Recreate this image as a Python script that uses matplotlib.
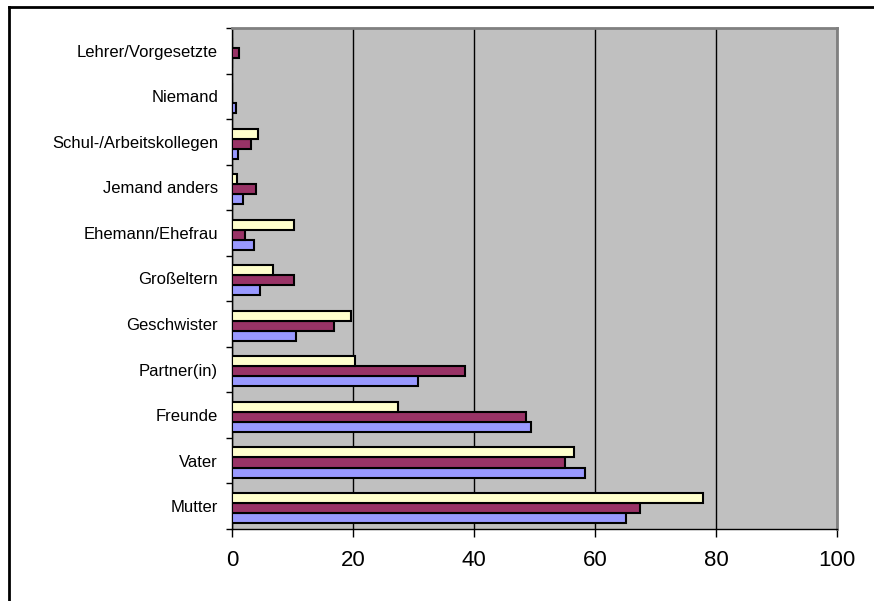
import numpy as np
import matplotlib
matplotlib.use("Agg")
import matplotlib.pyplot as plt
from matplotlib.lines import Line2D

plt.rcParams['font.family'] = ['Liberation Sans', 'DejaVu Sans']

# categories from bottom to top
categories = ["Mutter", "Vater", "Freunde", "Partner(in)", "Geschwister",
              "Großeltern", "Ehemann/Ehefrau", "Jemand anders",
              "Schul-/Arbeitskollegen", "Niemand", "Lehrer/Vorgesetzte"]

# three series, drawn bottom (blue) to top (yellow) inside each group
blue_vals = [65.2, 58.3, 49.4, 30.7, 10.5, 4.6, 3.6, 1.8, 1.0, 0.7, 0.0]
maroon_vals = [67.4, 55.0, 48.6, 38.5, 16.8, 10.2, 2.1, 4.0, 3.2, 0.0, 1.1]
yellow_vals = [77.8, 56.5, 27.4, 20.4, 19.7, 6.8, 10.2, 0.9, 4.3, 0.0, 0.0]

x_ticks = [0, 20, 40, 60, 80, 100]

fig = plt.figure(figsize=(8.74, 6.01), dpi=100)
ax = fig.add_axes([232 / 874, 1 - 529 / 601, 605 / 874, 501 / 601])
ax.set_facecolor("#C0C0C0")

y = np.arange(len(categories))
h = 0.22
base = y - 0.04
bar_kw = dict(height=h, edgecolor="black", linewidth=1.5, zorder=3)
ax.barh(base - h, blue_vals, color="#9999FF", **bar_kw)
ax.barh(base, maroon_vals, color="#993366", **bar_kw)
ax.barh(base + h, yellow_vals, color="#FFFFCC", **bar_kw)

ax.set_xlim(0, 100)
ax.set_ylim(-0.5, len(categories) - 0.5)
ax.set_xticks(x_ticks)
ax.set_xticklabels([str(t) for t in x_ticks], fontsize=16)

# category labels centred, tick marks on the boundaries
ax.set_yticks(y)
ax.set_yticklabels(categories, fontsize=12)
ax.tick_params(axis="y", which="major", length=0, pad=10)
ax.set_yticks(np.arange(len(categories) + 1) - 0.5, minor=True)
ax.tick_params(axis="y", which="minor", length=4, width=1, direction="out")
ax.tick_params(axis="x", length=6, width=1, direction="out", pad=9)

ax.grid(axis="x", color="black", linewidth=1, zorder=1)
ax.set_axisbelow(True)

for side in ["top", "right"]:
    ax.spines[side].set_color("#808080")
    ax.spines[side].set_linewidth(2)
for side in ["left", "bottom"]:
    ax.spines[side].set_color("black")
    ax.spines[side].set_linewidth(1)

# outer chart frame (top and left edges)
fig.add_artist(Line2D([9 / 874, 1], [1 - 7 / 601, 1 - 7 / 601],
                      color="black", linewidth=2, transform=fig.transFigure))
fig.add_artist(Line2D([9 / 874, 9 / 874], [0, 1 - 7 / 601],
                      color="black", linewidth=2, transform=fig.transFigure))

fig.savefig("out.png", dpi=100)
